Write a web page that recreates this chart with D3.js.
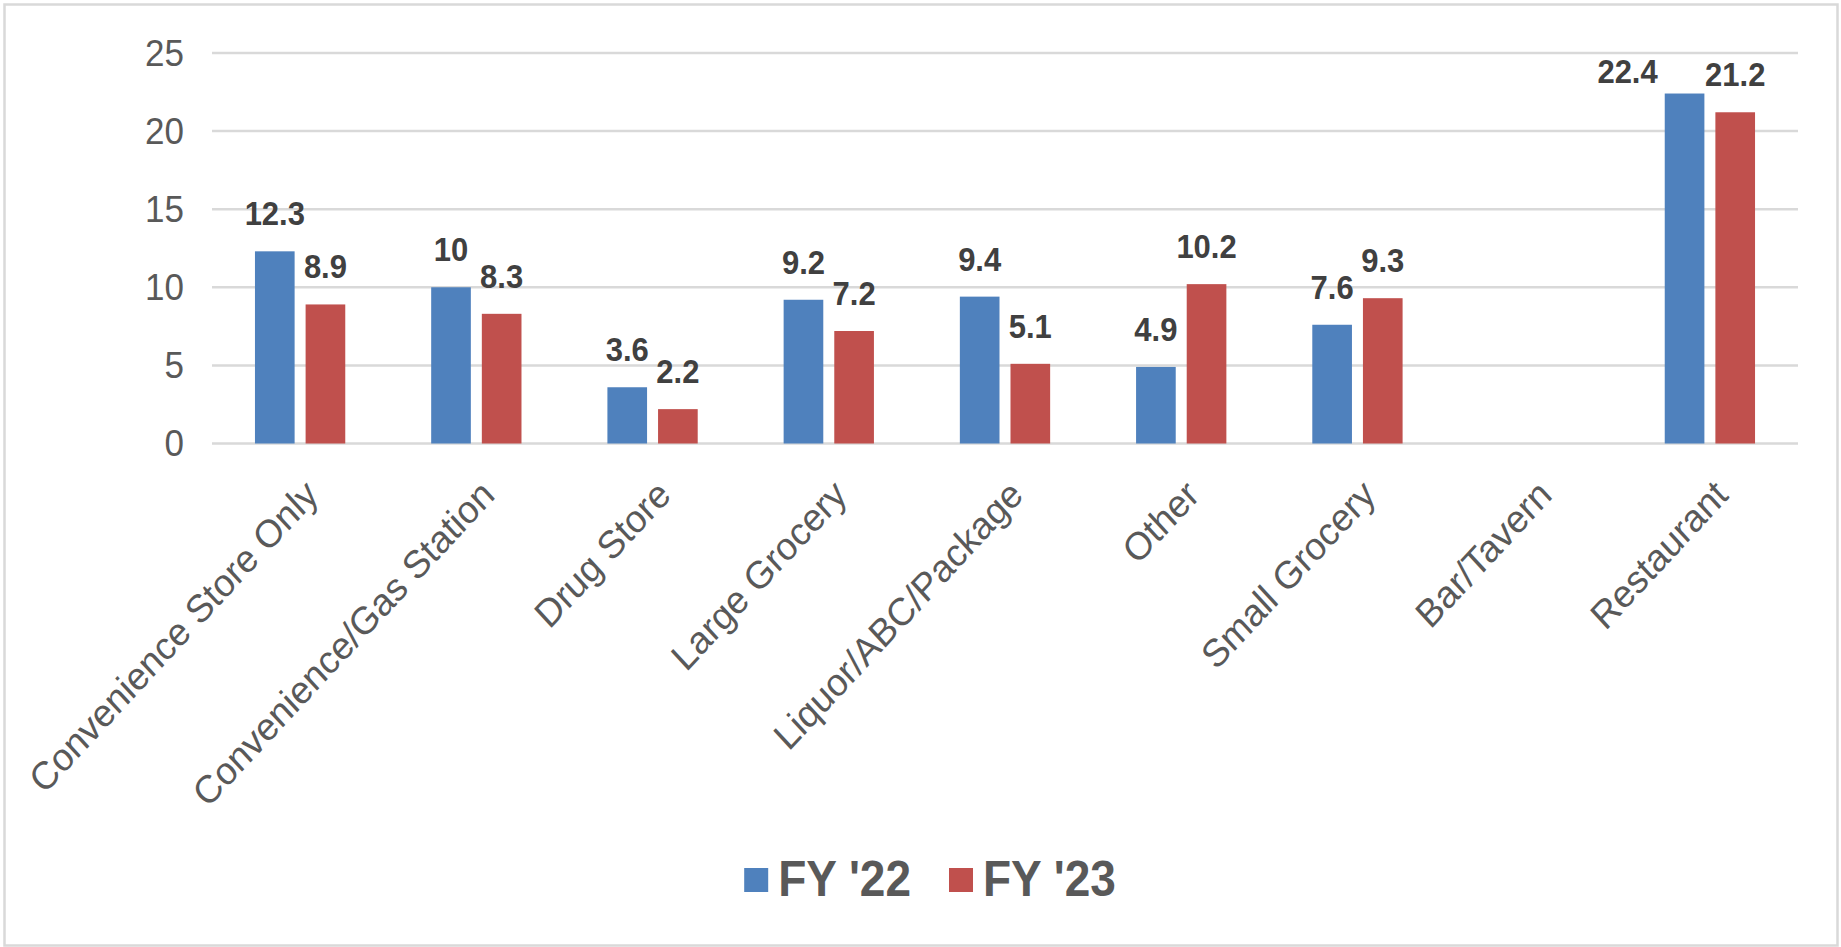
<!DOCTYPE html>
<html><head><meta charset="utf-8">
<script src="https://cdn.jsdelivr.net/npm/d3@7"></script>
<style>
html,body{margin:0;padding:0;background:#fff;}
svg{display:block;font-family:"Liberation Sans",Arial,sans-serif;}
</style>
</head><body>
<svg id="chart" width="1841" height="947"></svg>
<script>
// ---- data ----
const categories = ["Convenience Store Only","Convenience/Gas Station","Drug Store","Large Grocery","Liquor/ABC/Package","Other","Small Grocery","Bar/Tavern","Restaurant"];
const fy22 = [12.3, 10, 3.6, 9.2, 9.4, 4.9, 7.6, null, 22.4];
const fy23 = [8.9, 8.3, 2.2, 7.2, 5.1, 10.2, 9.3, null, 21.2];
const seriesNames = ["FY '22", "FY '23"];
const yTicks = [0, 5, 10, 15, 20, 25];
const seriesColors = ["#4F81BD", "#C0504D"];

const series = [fy22, fy23];
const SY = 1.08; // vertical text stretch seen in reference

const svg = d3.select("#chart");

// outer border
svg.append("rect").attr("x",4.5).attr("y",4.5).attr("width",1833).attr("height",941)
  .attr("fill","#fff").attr("stroke","#d9d9d9").attr("stroke-width",2.5);

const x = d3.scaleBand().domain(categories).range([212,1798]).paddingInner(0).paddingOuter(0);
const groupW = 90.3;
const xs = d3.scaleBand().domain(d3.range(series.length)).range([0,groupW]).paddingInner(0.217).paddingOuter(0);
const y = d3.scaleLinear().domain([0,25]).range([443.5,52.9]);

// gridlines
svg.append("g").selectAll("line").data(yTicks).join("line")
  .attr("x1",212).attr("x2",1798)
  .attr("y1",d=>y(d)).attr("y2",d=>y(d))
  .attr("stroke","#d9d9d9").attr("stroke-width",2.5);

// y tick labels
svg.append("g").selectAll("text").data(yTicks).join("text")
  .attr("transform",d=>`translate(184,${y(d)}) scale(1,${SY})`)
  .attr("text-anchor","end").attr("dominant-baseline","central")
  .attr("font-size",35).attr("fill","#595959")
  .text(d=>d);

// bars
const barData = [];
categories.forEach((c,i)=>{
  series.forEach((s,j)=>{
    if(s[i]!==null && s[i]!==undefined) barData.push({c, j, v:s[i]});
  });
});
const groupLeft = c => x(c) + x.bandwidth()/2 - groupW/2;

svg.append("g").selectAll("rect").data(barData).join("rect")
  .attr("x",d=>groupLeft(d.c)+xs(d.j))
  .attr("width",xs.bandwidth())
  .attr("y",d=>y(d.v))
  .attr("height",d=>y(0)-y(d.v))
  .attr("fill",d=>seriesColors[d.j]);

// data labels (one label moved aside to avoid collision, as in the original)
const labelShift = (d) => (d.c === "Restaurant" && d.j === 0) ? {dx:-57, dy:15} : {dx:0, dy:0};
svg.append("g").selectAll("text").data(barData).join("text")
  .attr("transform",d=>{
    const s = labelShift(d);
    return `translate(${groupLeft(d.c)+xs(d.j)+xs.bandwidth()/2+s.dx},${y(d.v)-26+s.dy}) scale(1,${SY})`;
  })
  .attr("text-anchor","middle")
  .attr("font-size",31).attr("font-weight","bold").attr("fill","#404040")
  .text(d=>d.v);

// category labels
svg.append("g").selectAll("text").data(categories).join("text")
  .attr("transform",d=>`translate(${x(d)+x.bandwidth()/2+20},497) scale(1,${SY}) rotate(-45)`)
  .attr("text-anchor","end")
  .attr("font-size",36).attr("fill","#595959")
  .text(d=>d);

// legend
const leg = svg.append("g");
const items = leg.selectAll("g").data(seriesNames).join("g");
items.append("rect").attr("width",24).attr("height",24).attr("y",868)
  .attr("fill",(d,i)=>seriesColors[i]);
items.append("text")
  .attr("font-size",46).attr("font-weight","bold").attr("fill","#595959")
  .attr("transform",`translate(0,896) scale(1,${SY})`)
  .text(d=>d);
let cx = 0;
const pos = [];
items.each(function(d,i){
  const t = d3.select(this).select("text");
  const w = t.node().getComputedTextLength();
  pos.push({sx:cx, tx:cx+34, w});
  cx += 34 + w + 38;
});
const total = cx - 38;
const startX = 930 - total/2;
items.each(function(d,i){
  const g = d3.select(this);
  g.select("rect").attr("x", startX + pos[i].sx);
  g.select("text").attr("transform",`translate(${startX+pos[i].tx},896) scale(1,${SY})`);
});
</script>
</body></html>
